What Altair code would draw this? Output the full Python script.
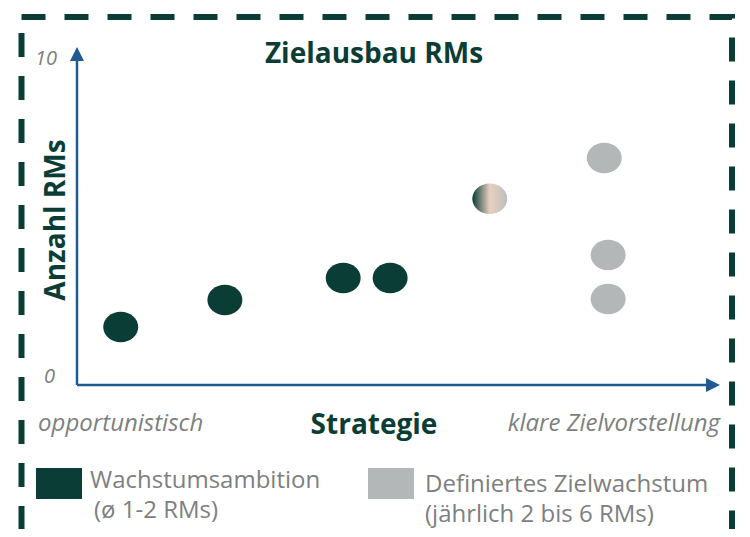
import altair as alt
import pandas as pd

# ---- data ----
strategy = [0.68, 2.30, 4.14, 4.87, 6.42, 8.20, 8.26, 8.26]
count_rms = [1.58, 2.43, 3.12, 3.12, 5.62, 6.91, 3.85, 2.46]
group = ["Wachstumsambition"] * 4 + ["Übergang"] + ["Definiertes Zielwachstum"] * 3

title_text = "Zielausbau RMs"
x_title = "Strategie"
y_title = "Anzahl RMs"
x_left_label = "opportunistisch"
x_right_label = "klare Zielvorstellung"
y_tick_labels = ["0", "10"]
legend_lines_1 = ["Wachstumsambition", "(ø 1-2 RMs)"]
legend_lines_2 = ["Definiertes Zielwachstum", "(jährlich 2 bis 6 RMs)"]

GREEN = "#0a3d35"
GRAY = "#b4b7b7"
BLUE = "#1f5a93"
TEXT_GRAY = "#7d8080"
FONT = "Open Sans"

df = pd.DataFrame({"x": strategy, "y": count_rms, "group": group})
one = pd.DataFrame({"a": [0]})

xs = alt.Scale(domain=[0, 10])
ys = alt.Scale(domain=[0, 10])
ELLIPSE = "M -1 0 A 1 0.87 0 1 1 1 0 A 1 0.87 0 1 1 -1 0 Z"

base = alt.Chart(df)

solid = base.transform_filter(alt.datum.group != "Übergang").mark_point(
    shape=ELLIPSE, size=1225, filled=True, opacity=1, strokeWidth=0
).encode(
    x=alt.X("x:Q", scale=xs, axis=None),
    y=alt.Y("y:Q", scale=ys, axis=None),
    color=alt.Color("group:N", scale=alt.Scale(
        domain=["Wachstumsambition", "Definiertes Zielwachstum"],
        range=[GREEN, GRAY]), legend=None),
)

grad = base.transform_filter(alt.datum.group == "Übergang").mark_point(
    shape=ELLIPSE, size=1225, filled=True, opacity=1, strokeWidth=0,
    fill=alt.LinearGradient(
        gradient="linear", x1=0, x2=1, y1=0, y2=0,
        stops=[alt.GradientStop(color=GREEN, offset=0),
               alt.GradientStop(color="#e8d0bf", offset=0.5),
               alt.GradientStop(color="#bcbfbf", offset=1)]),
).encode(
    x=alt.X("x:Q", scale=xs, axis=None),
    y=alt.Y("y:Q", scale=ys, axis=None),
)

deco = alt.Chart(one)

border = deco.mark_rect(filled=False, stroke=GREEN, strokeWidth=6,
                        strokeDash=[24, 19]).encode(
    x=alt.value(-55.5), x2=alt.value(655), y=alt.value(-43), y2=alt.value(492))

y_axis_line = deco.mark_rule(color=BLUE, strokeWidth=2.5).encode(
    x=alt.value(0), y=alt.value(325), y2=alt.value(-2))
x_axis_line = deco.mark_rule(color=BLUE, strokeWidth=2.5).encode(
    x=alt.value(0), x2=alt.value(631), y=alt.value(325))
y_head = deco.mark_point(shape="M 0 -1 L 1 1 L -1 1 Z", size=196, filled=True,
                         opacity=1, color=BLUE, strokeWidth=0).encode(
    x=alt.value(0), y=alt.value(-6))
x_head = deco.mark_point(shape="M 1 0 L -1 -1 L -1 1 Z", size=196, filled=True,
                         opacity=1, color=BLUE, strokeWidth=0).encode(
    x=alt.value(636), y=alt.value(325))


def txt(text, x, y, size, color, weight="normal", style="normal", align="left",
        baseline="alphabetic", angle=0):
    return deco.mark_text(font=FONT, fontSize=size, color=color, fontWeight=weight,
                          fontStyle=style, align=align, baseline=baseline,
                          angle=angle).encode(
        x=alt.value(x), y=alt.value(y), text=alt.value(text))


texts = [
    txt(title_text, 297, 3, 28, GREEN, weight="bold", align="center"),
    txt(x_title, 297, 374, 28, GREEN, weight="bold", align="center"),
    txt(y_title, -12, 160, 28, GREEN, weight="bold", align="center", angle=270),
    txt(x_left_label, -39, 371, 24, TEXT_GRAY, style="italic"),
    txt(x_right_label, 643, 371, 24, TEXT_GRAY, style="italic", align="right"),
    txt(y_tick_labels[1], -20, 5, 20, TEXT_GRAY, style="italic", align="right"),
    txt(y_tick_labels[0], -22, 323, 20, TEXT_GRAY, style="italic", align="right"),
    txt(legend_lines_1[0], 13, 428, 24, TEXT_GRAY),
    txt(legend_lines_1[1], 17, 458, 24, TEXT_GRAY),
    txt(legend_lines_2[0], 348, 432, 24, TEXT_GRAY),
    txt(legend_lines_2[1], 348, 462, 24, TEXT_GRAY),
]

legend_sq1 = deco.mark_rect(color=GREEN).encode(
    x=alt.value(-41), x2=alt.value(5), y=alt.value(408), y2=alt.value(439))
legend_sq2 = deco.mark_rect(color=GRAY).encode(
    x=alt.value(291), x2=alt.value(337), y=alt.value(408), y2=alt.value(439))

chart = alt.layer(
    border, y_axis_line, x_axis_line, y_head, x_head, solid, grad,
    legend_sq1, legend_sq2, *texts
).properties(
    width=643, height=317,
    padding={"left": 69, "top": 52, "right": 22, "bottom": 152},
    autosize=alt.AutoSizeParams(type="none"),
    background="white",
).configure_view(stroke=None)

chart.save("out.html", embed_options={"renderer": "svg", "actions": False})
